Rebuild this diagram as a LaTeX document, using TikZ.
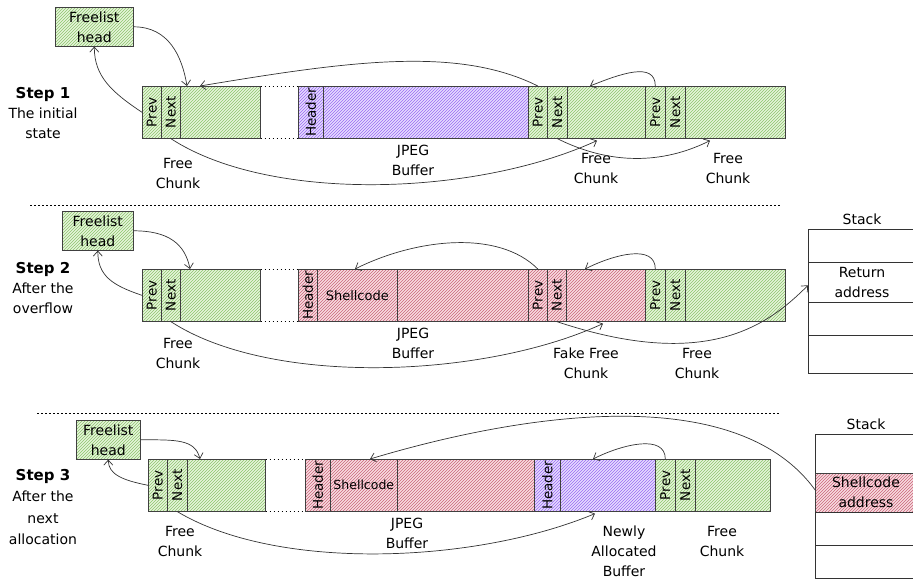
\documentclass[tikz,border=0pt]{standalone}
\usepackage{fontspec}
\setmainfont{DejaVu Sans}
\usetikzlibrary{positioning,patterns,arrows.meta}
\definecolor{grnfill}{HTML}{E6F5DB}
\definecolor{grnline}{HTML}{8CC46C}
\definecolor{purfill}{HTML}{E6DCFF}
\definecolor{purline}{HTML}{9A6AF2}
\definecolor{redfill}{HTML}{F8DCE1}
\definecolor{redline}{HTML}{C9667A}

\tikzset{
  cell/.style={draw=black!75, line width=0.6pt, inner sep=0pt, anchor=north west, minimum height=52pt},
  grncell/.style={cell, preaction={fill=grnfill}, pattern=north east lines, pattern color=grnline},
  purcell/.style={cell, preaction={fill=purfill}, pattern=north east lines, pattern color=purline},
  redcell/.style={cell, preaction={fill=redfill}, pattern=north east lines, pattern color=redline},
  stkcell/.style={draw=black!80, line width=0.6pt, inner sep=0pt, anchor=north west},
  lbl/.style={font=\fontsize{14}{20}\selectfont, align=center, inner sep=0pt},
  vlbl/.style={font=\fontsize{13.5}{14}\selectfont, rotate=90, inner sep=0pt},
  ptr/.style={-{Straight Barb[length=5pt,width=9pt]}, line width=0.7pt, black!80},
  gap/.style={line width=0.8pt, dash pattern=on 1.5pt off 2.5pt},
}

\begin{document}
\begin{tikzpicture}[x=1pt,y=-1pt]
  \useasboundingbox (0,0) rectangle (913,581);

  % step 1
  \node[lbl] (st1) at (43,113) {{\fontsize{15}{20}\selectfont\bfseries Step 1}\\The initial\\state};
  \node[grncell, lbl, minimum width=78pt, minimum height=39pt] (h1) at (55,7) {Freelist\\head};
  \foreach \nm/\a/\b/\st in {a1p/142/161/grncell, a1n/161/180/grncell, a1d/180/260/grncell,
                             a2h/298/323/purcell, a2d/323/528/purcell,
                             a3p/528/547/grncell, a3n/547/567/grncell, a3d/567/645/grncell,
                             a4p/645/665/grncell, a4n/665/685/grncell, a4d/685/785/grncell}{
    \node[\st, minimum width={(\b-\a)*1pt}] (\nm) at (\a,86) {};
  }
  \foreach \nm/\t in {a1p/Prev, a1n/Next, a2h/Header, a3p/Prev, a3n/Next, a4p/Prev, a4n/Next}
    \node[vlbl] (\nm-t) at (\nm) {\t};
  \draw[gap] (a1d.north east) -- (a2h.north west);
  \draw[gap] (a1d.south east) -- (a2h.south west);
  \node[lbl] (fc1) at (178,173) {Free\\Chunk};
  \node[lbl] (jb1) at (413,160) {JPEG\\Buffer};
  \node[lbl] (fc2) at (596,168) {Free\\Chunk};
  \node[lbl] (fc3) at (728,168) {Free\\Chunk};
  \draw[ptr] (h1.east) .. controls +(35,0) and +(-5,-30) .. ([xshift=7pt]a1d.north west);
  \draw[ptr] (a1p.west) .. controls +(-30,-20) and +(0,30) .. (h1.south);
  \draw[ptr] (a3p.north) .. controls +(-80,-40) and +(150,-25) .. ([xshift=20pt]a1d.north west);
  \draw[ptr] (a4p.north) .. controls +(0,-25) and +(30,-12) .. ([xshift=23pt]a3d.north west);
  \draw[ptr] (a1n.south) .. controls +(100,65) and +(-120,55) .. ([xshift=30pt,yshift=-2pt]a3d.south west);
  \draw[ptr] (a3n.south) .. controls +(60,30) and +(-40,20) .. ([xshift=25pt,yshift=-2pt]a4d.south west);

  \coordinate (sep1a) at (30,205);
  \coordinate (sep1b) at (780,205);
  \draw[gap] (sep1a) -- (sep1b);

  % step 2
  \node[lbl] (st2) at (43,288) {{\fontsize{15}{20}\selectfont\bfseries Step 2}\\After the\\overflow};
  \node[grncell, lbl, minimum width=71pt, minimum height=39pt] (h2) at (62,211) {Freelist\\head};
  \foreach \nm/\a/\b/\st in {b1p/142/161/grncell, b1n/161/180/grncell, b1d/180/260/grncell,
                             b2h/298/317/redcell, b2s/317/397/redcell, b2d/397/528/redcell,
                             b3p/528/547/redcell, b3n/547/566/redcell, b3d/566/645/redcell,
                             b4p/645/665/grncell, b4n/665/685/grncell, b4d/685/785/grncell}{
    \node[\st, minimum width={(\b-\a)*1pt}] (\nm) at (\a,269) {};
  }
  \foreach \nm/\t in {b1p/Prev, b1n/Next, b2h/Header, b3p/Prev, b3n/Next, b4p/Prev, b4n/Next}
    \node[vlbl] (\nm-t) at (\nm) {\t};
  \node[lbl, font=\fontsize{13}{14}\selectfont] (b2s-t) at (b2s) {Shellcode};
  \draw[gap] (b1d.north east) -- (b2h.north west);
  \draw[gap] (b1d.south east) -- (b2h.south west);
  \node[lbl] (fc4) at (178,353) {Free\\Chunk};
  \node[lbl] (jb2) at (413,343) {JPEG\\Buffer};
  \node[lbl] (ffc) at (586,363) {Fake Free\\Chunk};
  \node[lbl] (fc5) at (697,363) {Free\\Chunk};
  \node[lbl] (stk2) at (862,219) {Stack};
  \foreach \nm/\a/\b in {s2a/229/262, s2b/262/302, s2c/302/335, s2d/335/373}
    \node[stkcell, minimum width=110pt, minimum height={(\b-\a)*1pt}] (\nm) at (808,\a) {};
  \node[lbl] (s2b-t) at (862,282) {Return\\address};
  \draw[ptr] (h2.east) .. controls +(35,0) and +(-5,-25) .. ([xshift=10pt]b1d.north west);
  \draw[ptr] (b1p.west) .. controls +(-30,-10) and +(0,25) .. (h2.south);
  \draw[ptr] (b3p.north) .. controls +(-40,-40) and +(60,-30) .. ([xshift=38pt]b2s.north west);
  \draw[ptr] (b4p.north) .. controls +(0,-25) and +(30,-15) .. ([xshift=19pt]b3d.north west);
  \draw[ptr] (b1n.south) .. controls +(100,65) and +(-120,55) .. ([xshift=37pt,yshift=-2pt]b3d.south west);
  \draw[ptr] (b3n.south) .. controls +(150,50) and +(-40,40) .. ([yshift=-3pt]s2b.west);

  \coordinate (sep2a) at (37,413);
  \coordinate (sep2b) at (780,413);
  \draw[gap] (sep2a) -- (sep2b);

  % step 3
  \node[lbl, font=\fontsize{14}{21.5}\selectfont] (st3) at (43,507) {{\fontsize{15}{20}\selectfont\bfseries Step 3}\\After the\\next\\allocation};
  \node[grncell, lbl, minimum width=64pt, minimum height=39pt] (h3) at (76,420) {Freelist\\head};
  \foreach \nm/\a/\b/\st in {c1p/148/167/grncell, c1n/167/187/grncell, c1d/187/265/grncell,
                             c2h/305/330/redcell, c2s/330/397/redcell, c2d/397/534/redcell,
                             c3h/534/560/purcell, c3d/560/655/purcell,
                             c4p/655/675/grncell, c4n/675/695/grncell, c4d/695/770/grncell}{
    \node[\st, minimum width={(\b-\a)*1pt}] (\nm) at (\a,459) {};
  }
  \foreach \nm/\t in {c1p/Prev, c1n/Next, c2h/Header, c3h/Header, c4p/Prev, c4n/Next}
    \node[vlbl] (\nm-t) at (\nm) {\t};
  \node[lbl, font=\fontsize{12.5}{14}\selectfont] (c2s-t) at (c2s) {Shellcode};
  \draw[gap] (c1d.north east) -- (c2h.north west);
  \draw[gap] (c1d.south east) -- (c2h.south west);
  \node[lbl] (fc6) at (180,541) {Free\\Chunk};
  \node[lbl] (jb3) at (407,533) {JPEG\\Buffer};
  \node[lbl] (nab) at (624,551) {Newly\\Allocated\\Buffer};
  \node[lbl] (fc7) at (722,541) {Free\\Chunk};
  \node[lbl] (stk3) at (866,424) {Stack};
  \foreach \nm/\a/\b/\st in {s3a/434/473/stkcell, s3b/473/512/redcell, s3c/512/545/stkcell, s3d/545/578/stkcell}
    \node[\st, minimum width=104pt, minimum height={(\b-\a)*1pt}] (\nm) at (815,\a) {};
  \node[lbl] (s3b-t) at (866,492) {Shellcode\\address};
  \draw[ptr] (h3.east) .. controls +(35,0) and +(-5,-20) .. ([xshift=13pt]c1d.north west);
  \draw[ptr] (c1p.west) .. controls +(-25,-5) and +(0,15) .. (h3.south);
  \draw[ptr] ([yshift=3pt]s3b.west) .. controls +(-80,-110) and +(150,-45) .. ([xshift=40pt]c2s.north west);
  \draw[ptr] (c4p.north) .. controls +(0,-25) and +(30,-15) .. ([xshift=33pt]c3d.north west);
  \draw[ptr] (c1n.south) .. controls +(100,60) and +(-120,50) .. ([xshift=35pt,yshift=-2pt]c3d.south west);
\end{tikzpicture}
\end{document}
